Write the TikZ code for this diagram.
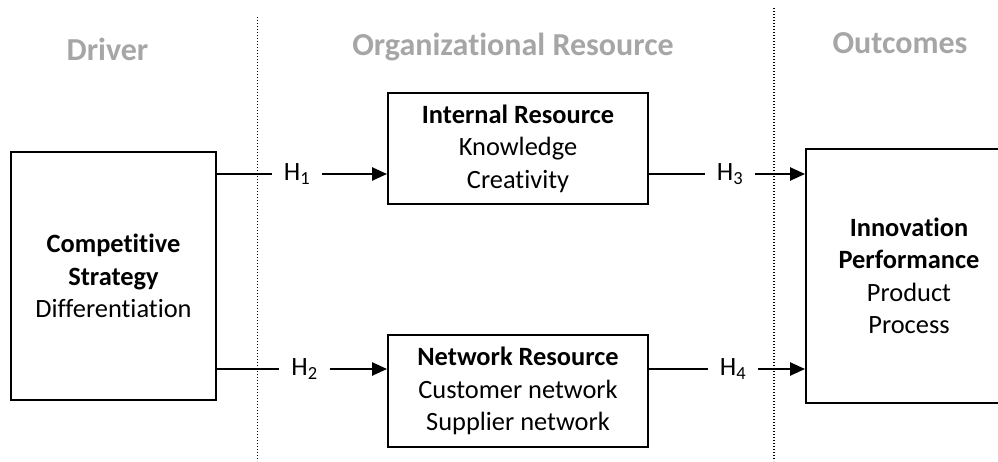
\documentclass[tikz,border=0pt]{standalone}
\usepackage{fontspec}
\setmainfont{Carlito}[Ligatures=NoCommon]
\usetikzlibrary{arrows.meta}
\definecolor{headgray}{HTML}{A6A6A6}
\tikzset{
	box/.style={draw, line width=1.9pt, align=center, inner sep=0pt, font=\fontsize{26.4}{32.5}\selectfont},
	heading/.style={text=headgray, anchor=base, inner sep=0pt, font=\fontsize{32}{38}\selectfont\bfseries},
	hyp/.style={inner sep=0pt, minimum width=50pt, minimum height=20pt, font=\fontsize{26.4}{32.5}\selectfont},
	link/.style={line width=2.4pt},
	arrowlink/.style={link, -{Triangle[length=15pt,width=13pt]}},
	divider/.style={line width=1.4pt, dash pattern=on 1.4pt off 1.6pt}
}
\begin{document}
\begin{tikzpicture}[x=1pt, y=-1pt]
		\useasboundingbox (0,0) rectangle (998,461);
		% column headings
		\node[heading] (hdriver) at (107.5,60) {Driver};
		\node[heading] (horg) at (513,55) {Organizational Resource};
		\node[heading] (hout) at (900,53) {Outcomes};
		% dotted dividers
		\coordinate (d1top) at (257.5,17);
		\coordinate (d1bot) at (257.5,461);
		\coordinate (d2top) at (774,8);
		\coordinate (d2bot) at (774,461);
		\draw[divider] (d1top) -- (d1bot);
		\draw[divider] (d2top) -- (d2bot);
		% boxes
		\node[box, minimum width=205pt, minimum height=248pt] (strat) at (113.5,276) {\textbf{Competitive}\\\textbf{Strategy}\\Differentiation};
		\node[box, minimum width=260pt, minimum height=111pt] (intres) at (518,148.5) {\textbf{Internal Resource}\\Knowledge\\Creativity};
		\node[box, minimum width=260pt, minimum height=112pt] (netres) at (518,391) {\textbf{Network Resource}\\Customer network\\Supplier network};
		\node[box, minimum width=206pt, minimum height=254pt] (innov) at (909,276) {\textbf{Innovation}\\\textbf{Performance}\\Product\\Process};
		% hypotheses
		\node[hyp] (h1) at (297,174) {H\textsubscript{1}};
		\node[hyp] (h2) at (304.5,369) {H\textsubscript{2}};
		\node[hyp] (h3) at (730,174) {H\textsubscript{3}};
		\node[hyp] (h4) at (733,369) {H\textsubscript{4}};
		\draw[link] (strat.east |- h1) -- (h1);
		\draw[arrowlink] (h1) -- (intres.west |- h1);
		\draw[link] (strat.east |- h2) -- (h2);
		\draw[arrowlink] (h2) -- (netres.west |- h2);
		\draw[link] (intres.east |- h3) -- (h3);
		\draw[arrowlink] (h3) -- (innov.west |- h3);
		\draw[link] (netres.east |- h4) -- (h4);
		\draw[arrowlink] (h4) -- (innov.west |- h4);
\end{tikzpicture}
\end{document}
